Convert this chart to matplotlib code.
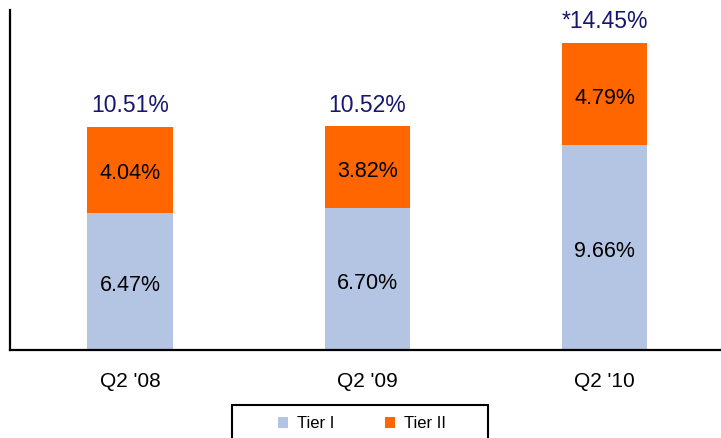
import matplotlib
matplotlib.use('Agg')
import matplotlib.pyplot as plt
from matplotlib.patches import Rectangle
import numpy as np

# ------------------------------------------------------------------------------
# Data
# ------------------------------------------------------------------------------
quarters = ["Q2 '08", "Q2 '09", "Q2 '10"]
tier1 = [6.47, 6.70, 9.66]
tier2 = [4.04, 3.82, 4.79]
totals = ['10.51%', '10.52%', '*14.45%']

col_t1 = '#b4c4e3'
col_t2 = '#ff6600'
col_tot = '#16166e'

plt.rcParams['font.family'] = ['Liberation Sans', 'DejaVu Sans']

# ------------------------------------------------------------------------------
# Plot
# ------------------------------------------------------------------------------
fig = plt.figure(figsize=(7.21, 4.38), dpi=100)
ax = fig.add_axes([10/721, 88/438, 711/721, 340/438])

x = np.arange(len(quarters))
w = 0.36
b1 = ax.bar(x, tier1, w, color=col_t1, label='Tier I')
b2 = ax.bar(x, tier2, w, bottom=tier1, color=col_t2, label='Tier II')

for i in range(len(x)):
    ax.text(x[i], tier1[i] / 2 - 0.2, '%.2f%%' % tier1[i], ha='center',
            va='center', fontsize=15.5)
    ax.text(x[i], tier1[i] + tier2[i] / 2 - 0.2, '%.2f%%' % tier2[i],
            ha='center', va='center', fontsize=15.5)
    ax.text(x[i], tier1[i] + tier2[i] + 0.45, totals[i], ha='center',
            va='bottom', fontsize=16.5, color=col_tot)

ax.set_xlim(-0.505, 2.49)
ax.set_ylim(0, 16)
ax.set_xticks(x)
ax.set_xticklabels(quarters, fontsize=15)
ax.tick_params(axis='x', length=0, pad=16)
ax.set_yticks([])
for s in ['top', 'right']:
    ax.spines[s].set_visible(False)
for s in ['left', 'bottom']:
    ax.spines[s].set_linewidth(1.6)

# Legend box (runs off the bottom of the figure)
fig.patches.append(Rectangle((232/721, -0.1), 256/721, 0.1 + 1 - 405/438,
                             transform=fig.transFigure, fill=False,
                             edgecolor='black', linewidth=1.5))
fig.legend(handles=[b1, b2], loc='center', ncol=2,
           bbox_to_anchor=(362/721, 1 - 424/438), frameon=False,
           fontsize=12, handlelength=0.6, handleheight=0.6,
           handletextpad=0.55, columnspacing=3.0)

plt.savefig('out.png', dpi=100)
